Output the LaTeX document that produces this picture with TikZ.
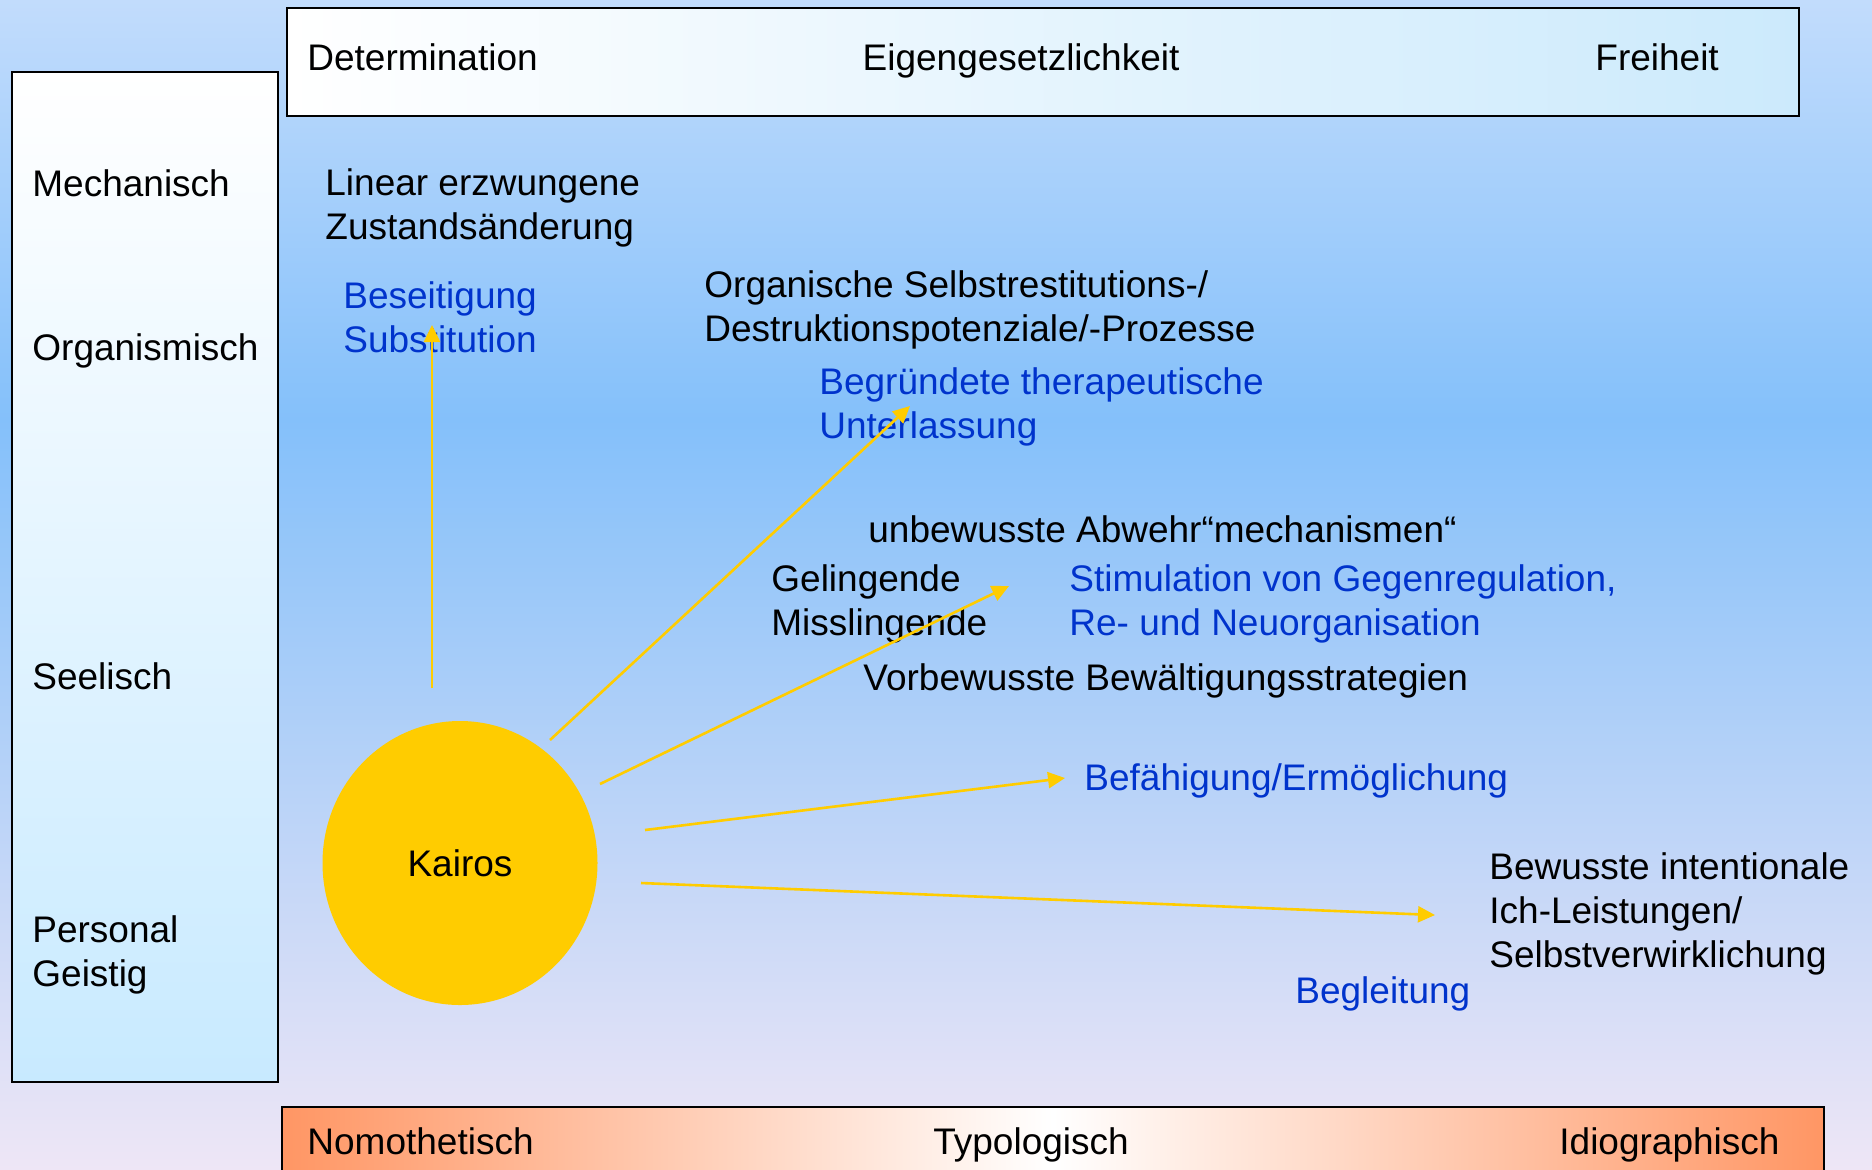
\documentclass[tikz,border=0pt]{standalone}
\usepackage{fontspec}
\setmainfont{Liberation Sans}
\usetikzlibrary{arrows.meta,shapes.geometric}

\definecolor{bgtop}{RGB}{194,220,252}
\definecolor{bgmid}{RGB}{132,192,250}
\definecolor{bglow}{RGB}{238,230,246}
\definecolor{boxblue}{RGB}{204,234,252}
\definecolor{sideblue}{RGB}{200,234,255}
\definecolor{ora}{RGB}{255,150,100}
\definecolor{sun}{RGB}{255,204,0}
\definecolor{kblue}{RGB}{0,51,204}

\tikzset{
  lbl/.style={anchor=west, inner sep=0pt, align=left, text depth=0pt, font=\fontsize{18.5}{22}\selectfont},
  blu/.style={lbl, text=kblue},
  ray/.style={draw=sun, line width=1.3pt, -{Triangle[length=8.5pt,width=8pt]}},
  panel/.style={draw=black, line width=0.9pt}
}

\begin{document}
\begin{tikzpicture}[x=0.5pt,y=-0.5pt]
\useasboundingbox (0,0) rectangle (1872,1169);
\clip (0,0) rectangle (1872,1169);

% background
\shade [top color=bgtop, bottom color=bgmid] (0,0) rectangle (1872,420);
\shade [top color=bgmid, bottom color=bglow] (0,419) rectangle (1872,1169);

% frames
\shade [panel, left color=white, right color=boxblue] (287,8) rectangle (1799,116);
\shade [panel, top color=white, bottom color=sideblue] (12,72) rectangle (278,1082);
\shade [panel, left color=ora, right color=ora, middle color=white] (282,1107) rectangle (1824,1200);

% Kairos
\node [ellipse, fill=sun, minimum width=137.5pt, minimum height=142pt, inner sep=0pt,
       font=\fontsize{18.5}{22}\selectfont] (kairos) at (460,863) {Kairos};

% top and bottom scale
\node [lbl] (determ) at (307,57) {Determination};
\node [lbl, anchor=center] (eigen) at (1021,57) {Eigengesetzlichkeit};
\node [lbl] (freiheit) at (1595,57) {Freiheit};
\node [lbl] (nomo) at (307,1141) {Nomothetisch};
\node [lbl, anchor=center] (typo) at (1031,1141) {Typologisch};
\node [lbl] (idio) at (1559,1141) {Idiographisch};

% levels
\node [lbl] (mech) at (32,183) {Mechanisch};
\node [lbl] (organ) at (32,347) {Organismisch};
\node [lbl] (seel) at (32,676) {Seelisch};
\node [lbl] (person) at (32,951) {Personal\\Geistig};

% texts
\node [lbl] (linear) at (325,204) {Linear erzwungene\\Zustandsänderung};
\node [blu] (beseit) at (343,317) {Beseitigung\\Substitution};
\node [lbl] (organische) at (704,306) {Organische Selbstrestitutions-/\\Destruktionspotenziale/-Prozesse};
\node [blu] (unterl) at (819,403) {Begründete therapeutische\\Unterlassung};
\node [lbl] (abwehr) at (868,529) {unbewusste Abwehr“mechanismen“};
\node [lbl] (geling) at (771,600) {Gelingende\\Misslingende};
\node [blu] (stimul) at (1069,600) {Stimulation von Gegenregulation,\\Re- und Neuorganisation};
\node [lbl] (vorbew) at (863,677) {Vorbewusste Bewältigungsstrategien};
\node [blu] (befaeh) at (1084,777) {Befähigung/Ermöglichung};
\node [lbl] (bewusst) at (1489,910) {Bewusste intentionale\\Ich-Leistungen/\\Selbstverwirklichung};
\node [blu] (begleit) at (1295,990) {Begleitung};

% rays
\coordinate (r1a) at (432,688); \coordinate (r1b) at (432,325);
\coordinate (r2a) at (550,740); \coordinate (r2b) at (910,406);
\coordinate (r3a) at (600,784); \coordinate (r3b) at (1009,586);
\coordinate (r4a) at (645,830); \coordinate (r4b) at (1065,778);
\coordinate (r5a) at (641,883); \coordinate (r5b) at (1435,915);
\draw [ray] (r1a) -- (r1b);
\draw [ray] (r2a) -- (r2b);
\draw [ray] (r3a) -- (r3b);
\draw [ray] (r4a) -- (r4b);
\draw [ray] (r5a) -- (r5b);

\end{tikzpicture}
\end{document}
